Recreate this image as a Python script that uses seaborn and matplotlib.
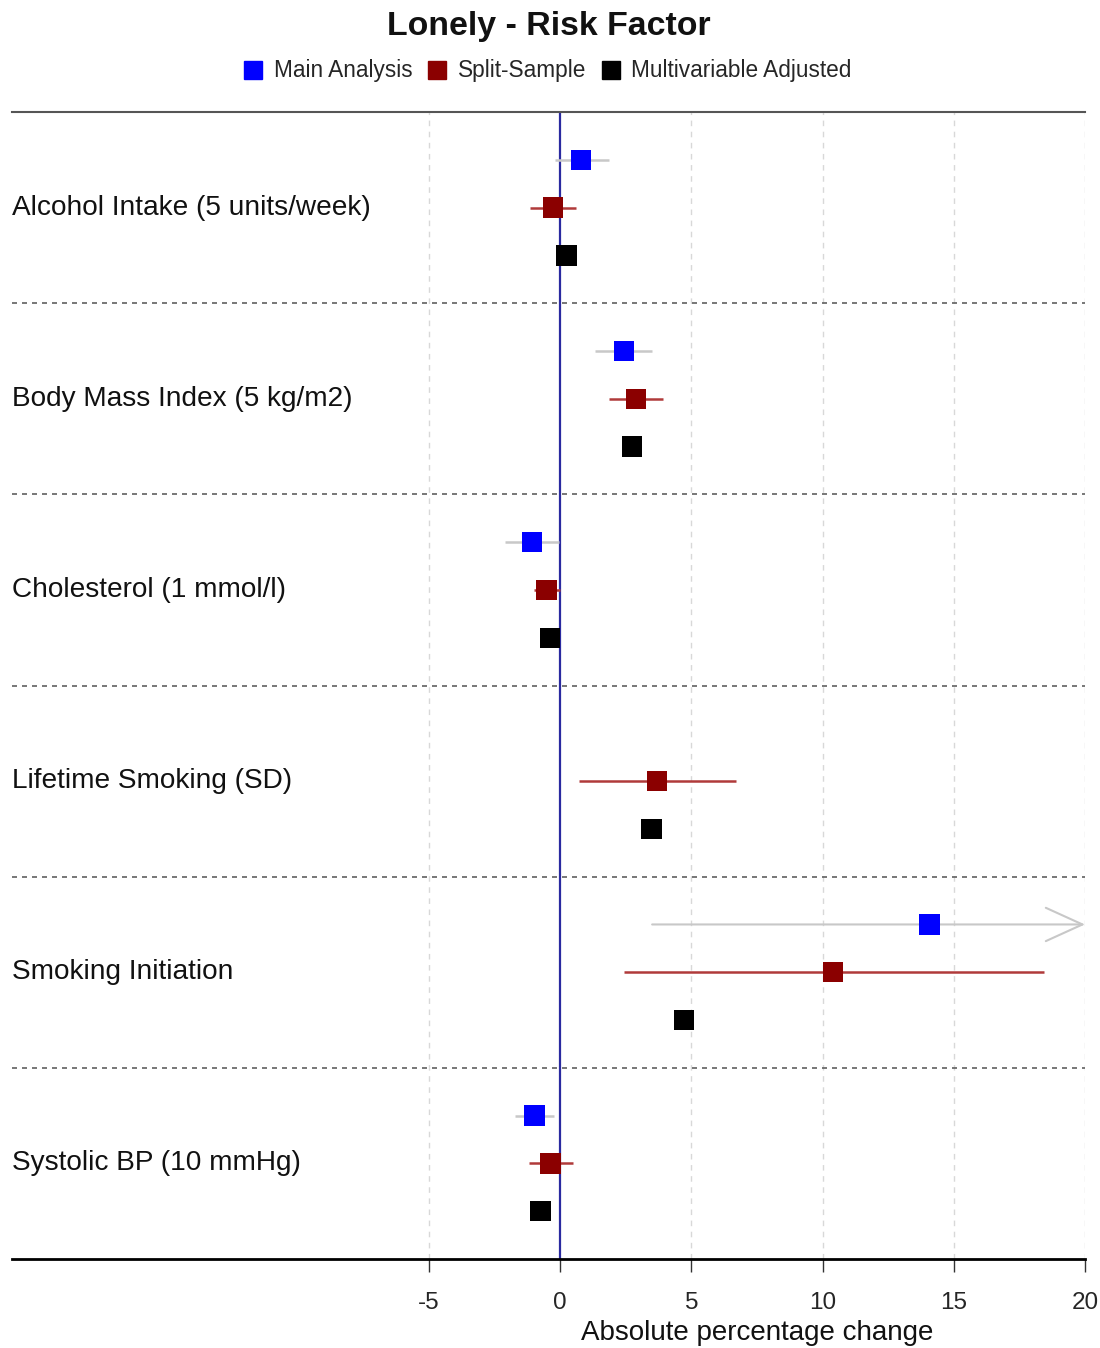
import numpy as np
import pandas as pd
import matplotlib
matplotlib.use("Agg")
import matplotlib.pyplot as plt
import matplotlib.transforms as mtransforms
from matplotlib.lines import Line2D
import seaborn as sns

# ---------------- data ----------------
factors = ["Alcohol Intake (5 units/week)", "Body Mass Index (5 kg/m2)",
           "Cholesterol (1 mmol/l)", "Lifetime Smoking (SD)",
           "Smoking Initiation", "Systolic BP (10 mmHg)"]
analyses = ["Main Analysis", "Split-Sample", "Multivariable Adjusted"]

main_est = [0.80, 2.42, -1.08, np.nan, 14.07, -0.98]
main_lo = [-0.19, 1.34, -2.10, np.nan, 3.50, -1.72]
main_hi = [1.84, 3.50, -0.06, np.nan, 25.0, -0.25]

split_est = [-0.29, 2.88, -0.53, 3.69, 10.39, -0.38]
split_lo = [-1.17, 1.87, -1.02, 0.70, 2.42, -1.21]
split_hi = [0.61, 3.90, 0.00, 6.68, 18.45, 0.47]

multi_est = [0.24, 2.74, -0.39, 3.47, 4.72, -0.76]
multi_lo = [0.00, 2.50, -0.60, 3.20, 4.45, -1.00]
multi_hi = [0.48, 2.98, -0.18, 3.74, 4.99, -0.52]

xticks = [-5, 0, 5, 10, 15, 20]
title = "Lonely - Risk Factor"
xlabel = "Absolute percentage change"

colors = {"Main Analysis": "#0000FF", "Split-Sample": "#8B0000",
          "Multivariable Adjusted": "#000000"}
ci_colors = {"Main Analysis": "#C8C8C8", "Split-Sample": "#B03A3A",
             "Multivariable Adjusted": "#000000"}

rows = []
for a_i, (a, est, lo, hi) in enumerate(zip(
        analyses,
        [main_est, split_est, multi_est],
        [main_lo, split_lo, multi_lo],
        [main_hi, split_hi, multi_hi])):
    for g, f in enumerate(factors):
        rows.append(dict(factor=f, analysis=a, est=est[g], lo=lo[g], hi=hi[g],
                         y=g * 4 + 1 + a_i))
df = pd.DataFrame(rows)

# ---------------- plot ----------------
sns.set_theme(style="white")
plt.rcParams["font.family"] = ["Liberation Sans", "DejaVu Sans"]

fig = plt.figure(figsize=(11, 13.48), dpi=100)
ax = fig.add_axes([12 / 1100, 1 - 1259 / 1348, (1085 - 12) / 1100, (1259 - 112) / 1348])

XMIN, XMAX = -20.9, 20.0
ax.set_xlim(XMIN, XMAX)
ax.set_ylim(len(factors) * 4, 0)

# vertical gridlines
for t in xticks:
    if t == 0:
        continue
    ax.axvline(t, color="#D8D8D8", lw=1.0, ls=(0, (4, 4)), zorder=0)
ax.axvline(0, color="#2A2AA0", lw=1.6, zorder=1)

# group separators
for g in range(1, len(factors)):
    ax.axhline(g * 4, color="#606060", lw=1.2, ls=(0, (3, 3)), zorder=0)

# confidence intervals
for _, r in df.dropna(subset=["est"]).iterrows():
    c = ci_colors[r["analysis"]]
    if r["hi"] > XMAX:
        ax.annotate("", xy=(XMAX, r["y"]), xytext=(r["lo"], r["y"]),
                    arrowprops=dict(arrowstyle="->,head_length=2.2,head_width=1.0",
                                    color=c, lw=1.5, shrinkA=0, shrinkB=0),
                    zorder=2)
    else:
        ax.hlines(r["y"], r["lo"], r["hi"], color=c, lw=1.8, zorder=2)

sns.scatterplot(data=df.dropna(subset=["est"]), x="est", y="y", hue="analysis",
                hue_order=analyses, palette=colors, marker="s", s=215,
                linewidth=0, ax=ax, legend=False, zorder=3)

# factor labels
trans = mtransforms.blended_transform_factory(ax.transAxes, ax.transData)
for g, f in enumerate(factors):
    ax.text(0.0, g * 4 + 2, f, transform=trans, ha="left", va="center",
            fontsize=20.2, color="#111111")

# axes styling
for s in ["left", "right"]:
    ax.spines[s].set_visible(False)
ax.spines["bottom"].set_color("black")
ax.spines["bottom"].set_linewidth(2.0)
ax.spines["top"].set_color("#555555")
ax.spines["top"].set_linewidth(1.5)
ax.set_yticks([])
ax.set_xticks(xticks)
ax.set_xticklabels([str(t) for t in xticks], fontsize=17.5)
ax.tick_params(axis="x", direction="out", length=9, width=1, color="#333333",
               pad=15, bottom=True)
ax.set_xlabel("")
ax.set_ylabel("")
xtrans = mtransforms.blended_transform_factory(ax.transData, fig.transFigure)
ax.text((xticks[0] + xticks[-1]) / 2, 1 - 1333 / 1348, xlabel, transform=xtrans,
        ha="center", va="center", fontsize=20, color="#111111")

fig.text(0.499, 1 - 27 / 1348, title, ha="center", va="center",
         fontsize=24.4, fontweight="bold", color="#111111")

handles = [Line2D([0], [0], marker="s", ls="", color=colors[a], markersize=13)
           for a in analyses]
fig.legend(handles, analyses, loc="center", bbox_to_anchor=(0.497, 1 - 71 / 1348),
           ncol=3, frameon=False, fontsize=16.3, handletextpad=0.4,
           columnspacing=0.6, handlelength=1.0)

fig.savefig("out.png", dpi=100)
